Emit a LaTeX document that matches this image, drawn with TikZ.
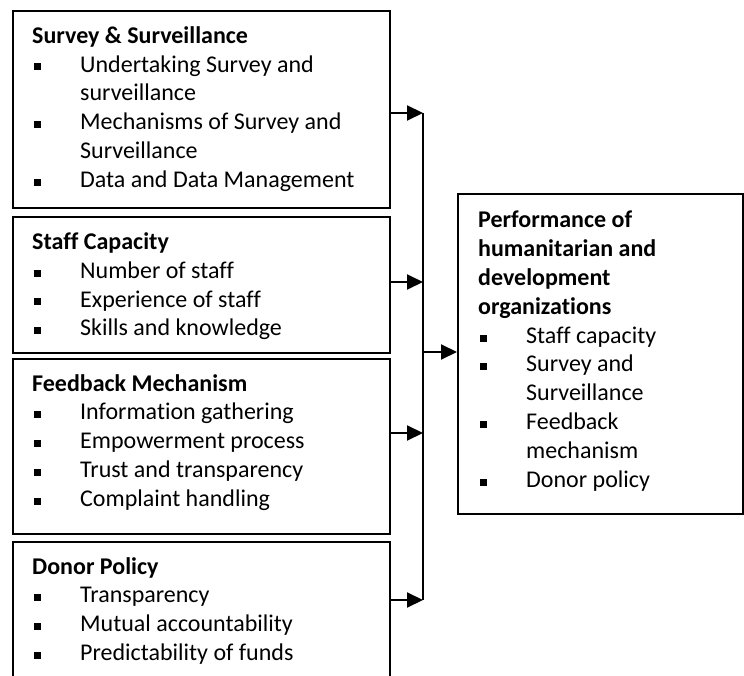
\documentclass[tikz,border=0pt]{standalone}
\usepackage{fontspec}
\setmainfont{Carlito}[Ligatures=NoCommon]
\usetikzlibrary{arrows.meta,positioning}

% square bullet and box titles
\newcommand{\sqb}{\hspace*{1.5pt}\rule[1.6pt]{7pt}{7pt}}
\newcommand{\boxtitle}[1]{\multicolumn{2}{@{}l@{}}{\textbf{#1}}}

\tikzset{
        % Outer boxes
        factor_box/.style={rectangle, draw=black, line width=2pt, anchor=north west, inner sep=0pt},
        % Text inside a box, placed on the baseline of its first line
        factor_text/.style={anchor=base west, inner sep=0pt, font=\fontsize{24pt}{28.8pt}\selectfont},
        % Connectors
        link/.style={line width=2pt, -{Triangle[length=16pt,width=15pt]}},
        bus/.style={line width=2pt}
}

\begin{document}
\begin{tikzpicture}[x=1pt, y=-1pt]
            \useasboundingbox (0,0) rectangle (744,676);
            \clip (0,0) rectangle (744,676);

            % factor boxes
            \node[factor_box, minimum width=377pt, minimum height=197pt] (survey) at (12,10) {};
            \node[factor_box, minimum width=377pt, minimum height=136pt] (staff) at (12,216) {};
            \node[factor_box, minimum width=377pt, minimum height=175pt] (feedback) at (12,358) {};
            \node[factor_box, minimum width=377pt, minimum height=160pt] (donor) at (12,541) {};
            \node[factor_box, minimum width=285pt, minimum height=320pt] (perf) at (457,193) {};

            \node[factor_text] (survey_t) at (32,43.3) {\begin{tabular}[t]{@{}p{48pt}@{}l@{}}
                \boxtitle{Survey \& Surveillance}\\
                \sqb & Undertaking Survey and\\
                     & surveillance\\
                \sqb & Mechanisms of Survey and\\
                     & Surveillance\\
                \sqb & Data and Data Management
            \end{tabular}};
            \node[factor_text] (staff_t) at (32,249.5) {\begin{tabular}[t]{@{}p{48pt}@{}l@{}}
                \boxtitle{Staff Capacity}\\
                \sqb & Number of staff\\
                \sqb & Experience of staff\\
                \sqb & Skills and knowledge
            \end{tabular}};
            \node[factor_text] (feedback_t) at (32,391) {\begin{tabular}[t]{@{}p{48pt}@{}l@{}}
                \boxtitle{Feedback Mechanism}\\
                \sqb & Information gathering\\
                \sqb & Empowerment process\\
                \sqb & Trust and transparency\\
                \sqb & Complaint handling
            \end{tabular}};
            \node[factor_text] (donor_t) at (32,574) {\begin{tabular}[t]{@{}p{48pt}@{}l@{}}
                \boxtitle{Donor Policy}\\
                \sqb & Transparency\\
                \sqb & Mutual accountability\\
                \sqb & Predictability of funds
            \end{tabular}};
            \node[factor_text] (perf_t) at (478,228) {\begin{tabular}[t]{@{}p{48pt}@{}l@{}}
                \boxtitle{Performance of}\\
                \boxtitle{humanitarian and}\\
                \boxtitle{development}\\
                \boxtitle{organizations}\\
                \sqb & Staff capacity\\
                \sqb & Survey and\\
                     & Surveillance\\
                \sqb & Feedback\\
                     & mechanism\\
                \sqb & Donor policy
            \end{tabular}};

            % joints on the vertical line
            \coordinate (j_survey) at (423,113);
            \coordinate (j_staff) at (423,282);
            \coordinate (j_perf) at (423,352);
            \coordinate (j_feedback) at (423,433);
            \coordinate (j_donor) at (423,600);

            \draw[bus] (j_survey) -- (j_donor);
            \draw[link] (survey.east |- j_survey) -- (j_survey);
            \draw[link] (staff.east |- j_staff) -- (j_staff);
            \draw[link] (feedback.east |- j_feedback) -- (j_feedback);
            \draw[link] (donor.east |- j_donor) -- (j_donor);
            \draw[link] (j_perf) -- (perf.west |- j_perf);
\end{tikzpicture}
\end{document}
